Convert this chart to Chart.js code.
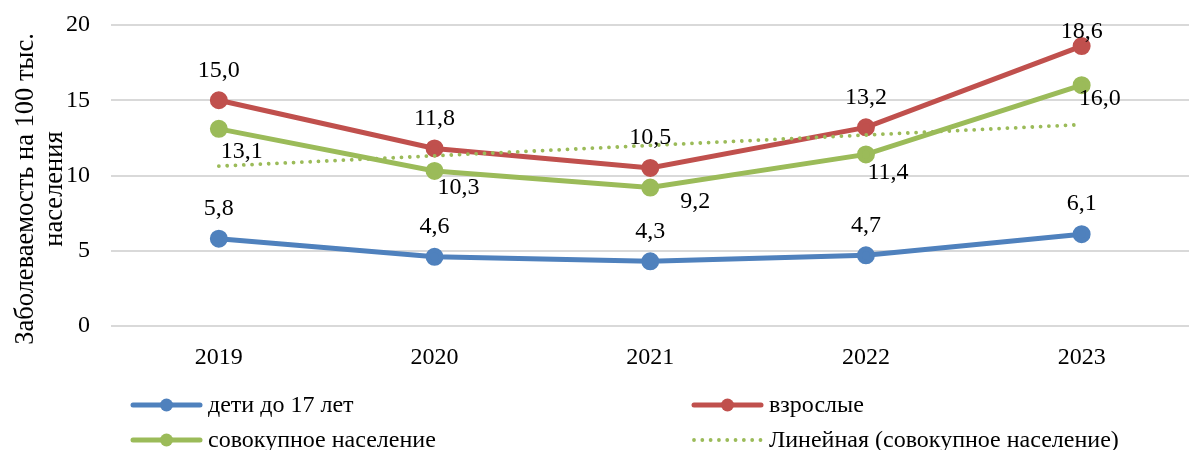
<!DOCTYPE html>
<html lang="ru">
<head>
<meta charset="utf-8">
<script src="https://cdn.jsdelivr.net/npm/chart.js@4/dist/chart.umd.min.js"></script>
<style>
  html, body { margin: 0; padding: 0; background: #fff; overflow: hidden; }
  #wrap { width: 1189px; height: 450px; }
  canvas { display: block; }
</style>
</head>
<body>
<div id="wrap"><canvas id="c" width="1189" height="450"></canvas></div>
<script>
// Заболеваемость на 100 тыс. населения, 2019–2023
const years = ['2019', '2020', '2021', '2022', '2023'];
const children = [5.8, 4.6, 4.3, 4.7, 6.1];
const adults = [15.0, 11.8, 10.5, 13.2, 18.6];
const total = [13.1, 10.3, 9.2, 11.4, 16.0];
const yTicks = [0, 5, 10, 15, 20];

const seriesNames = ['дети до 17 лет', 'взрослые', 'совокупное население', 'Линейная (совокупное население)'];
const axisTitle = ['Заболеваемость на 100 тыс.', 'населения'];

// Least-squares linear trend of the "совокупное население" series
function linearTrend(values) {
  const n = values.length;
  const xm = (n - 1) / 2;
  const ym = values.reduce((a, b) => a + b, 0) / n;
  let sxy = 0, sxx = 0;
  values.forEach((v, i) => { sxy += (i - xm) * (v - ym); sxx += (i - xm) * (i - xm); });
  const k = sxy / sxx;
  return values.map((_, i) => ym + k * (i - xm));
}
const totalTrend = linearTrend(total);

const FONT = '"Liberation Serif", "Times New Roman", serif';
const SIZE = 24;
const TITLE_SIZE = 26.5;
const BLUE = '#4F81BD', RED = '#C0504D', GREEN = '#9BBB59';

const fmt = v => v.toFixed(1).replace('.', ',');

// let the plot area run a little past the right edge of the canvas
const widenPlot = {
  id: 'widenPlot',
  afterLayout(chart, args, opts) {
    const extra = opts.extra || 0;
    const x = chart.scales.x;
    x.right += extra;
    x.width += extra;
    x.configure();
    chart.chartArea.right += extra;
    chart.chartArea.width += extra;
  }
};

// value labels next to the points
const valueLabels = {
  id: 'valueLabels',
  afterDatasetsDraw(chart, args, opts) {
    const ctx = chart.ctx;
    ctx.save();
    ctx.font = SIZE + 'px ' + FONT;
    ctx.fillStyle = '#000';
    ctx.textAlign = 'center';
    ctx.textBaseline = 'middle';
    opts.sets.forEach(s => {
      const meta = chart.getDatasetMeta(s.index);
      const data = chart.data.datasets[s.index].data;
      meta.data.forEach((pt, i) => {
        const off = s.offsets[i];
        ctx.fillText(fmt(data[i]), pt.x + off[0], pt.y + off[1]);
      });
    });
    ctx.restore();
  }
};

// rotated two-line y-axis title and two-column legend
const decorations = {
  id: 'decorations',
  afterDraw(chart) {
    const ctx = chart.ctx;
    ctx.save();
    ctx.fillStyle = '#000';
    ctx.font = TITLE_SIZE + 'px ' + FONT;
    ctx.textAlign = 'center';
    ctx.textBaseline = 'alphabetic';
    const cy = 189;
    [[33, axisTitle[0]], [62, axisTitle[1]]].forEach(([x, t]) => {
      ctx.save();
      ctx.translate(x, cy);
      ctx.rotate(-Math.PI / 2);
      ctx.fillText(t, 0, 0);
      ctx.restore();
    });

    const items = [
      { x: 131, y: 405, ds: 0 },
      { x: 692, y: 405, ds: 1 },
      { x: 131, y: 440, ds: 2 },
      { x: 692, y: 440, ds: 3 }
    ];
    ctx.font = SIZE + 'px ' + FONT;
    ctx.textAlign = 'left';
    ctx.textBaseline = 'middle';
    items.forEach(it => {
      const d = chart.data.datasets[it.ds];
      const w = 71;
      ctx.save();
      ctx.strokeStyle = d.borderColor;
      ctx.lineWidth = d.borderWidth;
      ctx.lineCap = 'round';
      if (d.borderDash) ctx.setLineDash(d.borderDash);
      ctx.beginPath();
      ctx.moveTo(it.x + 2, it.y);
      ctx.lineTo(it.x + w - 2, it.y);
      ctx.stroke();
      if (d.pointRadius > 0) {
        ctx.setLineDash([]);
        ctx.fillStyle = d.borderColor;
        ctx.beginPath();
        ctx.arc(it.x + w / 2, it.y, d.pointRadius, 0, Math.PI * 2);
        ctx.fill();
      }
      ctx.restore();
      ctx.fillText(d.label, it.x + w + 6, it.y + 1);
    });
    ctx.restore();
  }
};

new Chart(document.getElementById('c'), {
  type: 'line',
  data: {
    labels: years,
    datasets: [
      { label: seriesNames[0], data: children, borderColor: BLUE, backgroundColor: BLUE,
        borderWidth: 5, pointRadius: 6.5, pointHoverRadius: 6.5, tension: 0, order: 3 },
      { label: seriesNames[1], data: adults, borderColor: RED, backgroundColor: RED,
        borderWidth: 5, pointRadius: 6.5, pointHoverRadius: 6.5, tension: 0, order: 2 },
      { label: seriesNames[2], data: total, borderColor: GREEN, backgroundColor: GREEN,
        borderWidth: 5, pointRadius: 6.5, pointHoverRadius: 6.5, tension: 0, order: 1 },
      { label: seriesNames[3], data: totalTrend, borderColor: GREEN, backgroundColor: GREEN,
        borderWidth: 3.8, borderDash: [0.01, 8.3], borderCapStyle: 'round',
        pointRadius: 0, tension: 0, order: 0 }
    ]
  },
  options: {
    responsive: false,
    animation: false,
    events: [],
    layout: { padding: { top: 25, left: 0, right: 0, bottom: 0 } },
    plugins: {
      legend: { display: false },
      tooltip: { enabled: false },
      widenPlot: { extra: 12 },
      valueLabels: {
        sets: [
          { index: 0, offsets: [[0, -30], [0, -30], [0, -30], [0, -30], [0, -30]] },
          { index: 1, offsets: [[0, -30], [0, -30], [0, -30], [0, -30], [0, -14]] },
          { index: 2, offsets: [[23, 23], [24, 17], [45, 14], [22, 18], [18, 14]] }
        ]
      }
    },
    scales: {
      x: {
        type: 'category',
        offset: true,
        grid: { display: false, drawTicks: false },
        border: { display: false },
        ticks: { color: '#000', font: { family: FONT, size: SIZE }, padding: 17, maxRotation: 0 },
        afterFit: s => { s.height = 124; s.paddingLeft = 0; s.paddingRight = 0; }
      },
      y: {
        min: 0, max: 20,
        afterBuildTicks: s => { s.ticks = yTicks.map(v => ({ value: v })); },
        grid: { color: '#d9d9d9', lineWidth: 2, drawTicks: false },
        border: { display: false },
        ticks: { color: '#000', font: { family: FONT, size: SIZE }, padding: 21 },
        afterFit: s => { s.width = 111; s.paddingTop = 0; s.paddingBottom = 0; }
      }
    }
  },
  plugins: [widenPlot, valueLabels, decorations]
});
</script>
</body>
</html>
